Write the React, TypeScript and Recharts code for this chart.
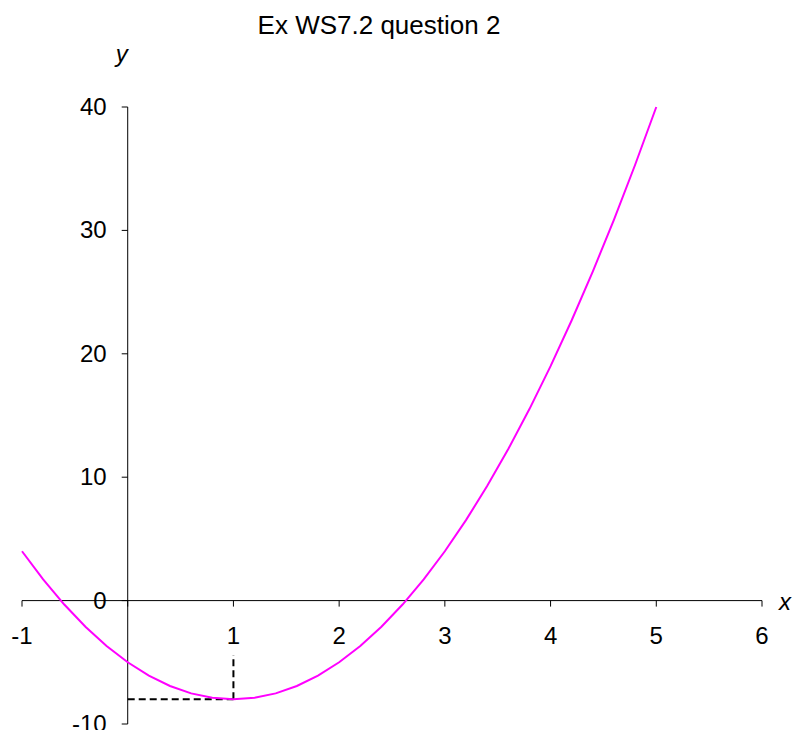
import {
  LineChart,
  Line,
  XAxis,
  YAxis,
  ReferenceLine,
  ReferenceDot,
} from "recharts";

const xValues = [
  -1, -0.8, -0.6, -0.4, -0.2, 0, 0.2, 0.4, 0.6, 0.8, 1, 1.2, 1.4, 1.6, 1.8, 2,
  2.2, 2.4, 2.6, 2.8, 3, 3.2, 3.4, 3.6, 3.8, 4, 4.2, 4.4, 4.6, 4.8, 5,
];
const yValues = [
  4, 1.72, -0.32, -2.12, -3.68, -5, -6.08, -6.92, -7.52, -7.88, -8, -7.88,
  -7.52, -6.92, -6.08, -5, -3.68, -2.12, -0.32, 1.72, 4, 6.52, 9.28, 12.28,
  15.52, 19, 22.72, 26.68, 30.88, 35.32, 40,
];

const xTicks = [-1, 0, 1, 2, 3, 4, 5, 6];
const xTickLabels = ["-1", "", "1", "2", "3", "4", "5", "6"];
const yTicks = [-10, 0, 10, 20, 30, 40];
const yTickLabels = ["-10", "0", "10", "20", "30", "40"];

// guide to the minimum point
const minX = 1;
const minY = -8;
const guideTop = -4.4;

const data = xValues.map((x, i) => ({ x, y: yValues[i] }));

const FONT = '"Liberation Sans", Arial, sans-serif';

// tick mark + label drawn at the dot's scaled position
const xTick = (label: string) => (p: any) => (
  <g>
    <line x1={p.cx} y1={p.cy} x2={p.cx} y2={p.cy + 6} stroke="#000" strokeWidth={1} />
    {label ? (
      <text x={p.cx} y={p.cy + 43} textAnchor="middle" fontSize={24} fontFamily={FONT} fill="#000">
        {label}
      </text>
    ) : null}
  </g>
);
const yTick = (label: string) => (p: any) => (
  <g>
    <line x1={p.cx} y1={p.cy} x2={p.cx - 6} y2={p.cy} stroke="#000" strokeWidth={1} />
    <text x={p.cx - 21} y={p.cy + 8} textAnchor="end" fontSize={24} fontFamily={FONT} fill="#000">
      {label}
    </text>
  </g>
);
const axisName = (label: string, dx: number, dy: number) => (p: any) => (
  <text x={p.cx + dx} y={p.cy + dy} fontSize={24} fontStyle="italic" fontFamily={FONT} fill="#000">
    {label}
  </text>
);

const App = () => {
  return (
    <div style={{ position: "relative", width: 792, height: 730, fontFamily: FONT }}>
      <style>{"html,body{margin:0;overflow:hidden}"}</style>
      <div
        style={{
          position: "absolute",
          left: 379,
          top: 12,
          transform: "translateX(-50%)",
          fontSize: 26,
          lineHeight: "26px",
          whiteSpace: "nowrap",
          color: "#000",
        }}
      >
        Ex WS7.2 question 2
      </div>
      <LineChart
        width={792}
        height={730}
        data={data}
        margin={{ top: 107, right: 30, bottom: 6, left: 22 }}
        style={{ fontFamily: FONT }}
      >
        <XAxis dataKey="x" type="number" domain={[-1, 6]} hide />
        <YAxis type="number" domain={[-10, 40]} hide />

        <ReferenceLine y={0} stroke="#000" strokeWidth={1} />
        <ReferenceLine x={0} stroke="#000" strokeWidth={1} />

        {xTicks.map((t, i) => (
          <ReferenceDot key={"xt" + t} x={t} y={0} r={0} shape={xTick(xTickLabels[i])} />
        ))}
        {yTicks.map((t, i) => (
          <ReferenceDot key={"yt" + t} x={0} y={t} r={0} shape={yTick(yTickLabels[i])} />
        ))}

        <ReferenceDot x={6} y={0} r={0} shape={axisName("x", 17, 9)} />
        <ReferenceDot x={0} y={40} r={0} shape={axisName("y", -12, -45)} />

        <ReferenceLine
          segment={[
            { x: 0, y: minY },
            { x: minX, y: minY },
          ]}
          stroke="#000"
          strokeWidth={2}
          strokeDasharray="7 4"
        />
        <ReferenceLine
          segment={[
            { x: minX, y: minY },
            { x: minX, y: guideTop },
          ]}
          stroke="#000"
          strokeWidth={2}
          strokeDasharray="7 4"
        />

        <Line
          dataKey="y"
          type="linear"
          stroke="#FF00FF"
          strokeWidth={2}
          dot={false}
          activeDot={false}
          isAnimationActive={false}
        />
      </LineChart>
    </div>
  );
};

export default App;
